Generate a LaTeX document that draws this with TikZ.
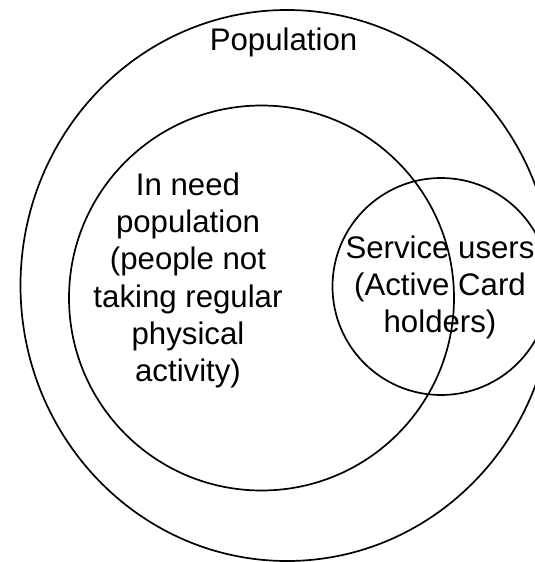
\documentclass[tikz,border=0pt]{standalone}
\usepackage{fontspec}
\setmainfont{Liberation Sans}
\usetikzlibrary{shapes.geometric}
\begin{document}
\begin{tikzpicture}[x=1pt,y=-1pt,
  setshape/.style={draw=black,line width=1.7pt,ellipse,inner sep=0pt,outer sep=0pt},
  lbl/.style={font=\fontsize{31.2}{37.3}\selectfont,align=center,inner sep=0pt,text=black}]
\useasboundingbox (0,0) rectangle (535,562);
\clip (0,0) rectangle (535,562);
\node[setshape,minimum width=533pt,minimum height=551pt] (pop) at (287,285.5) {};
\node[setshape,minimum width=385pt,minimum height=385pt] (need) at (261.5,298) {};
\node[setshape,minimum width=217pt,minimum height=217pt] (users) at (441,286.5) {};
\node[lbl,anchor=base] (poplbl) at (283.5,50) {Population};
\node[lbl] (needlbl) at (188,280.5) {In need\\population\\(people not\\taking regular\\physical\\activity)};
\node[lbl] (userslbl) at (440,287.3) {Service users\\(Active Card\\holders)};
\end{tikzpicture}
\end{document}
